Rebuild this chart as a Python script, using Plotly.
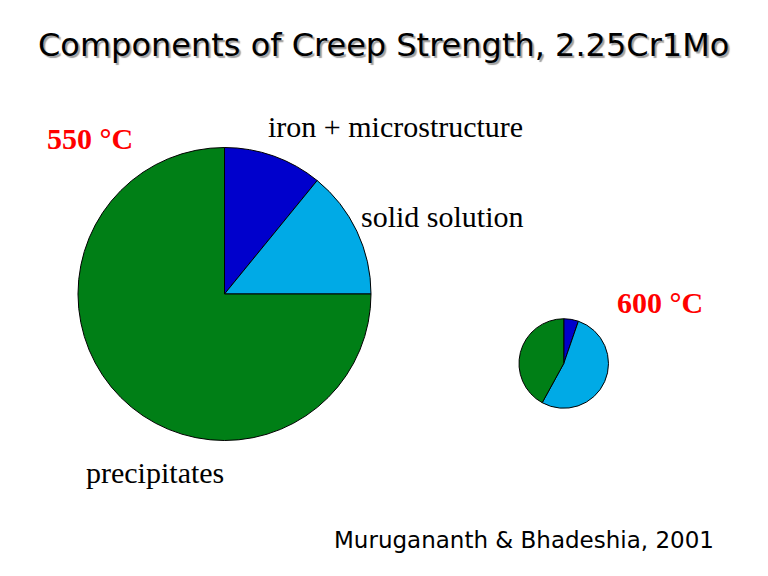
import plotly.graph_objects as go

components = ["iron + microstructure", "solid solution", "precipitates"]
share_550 = [10.9, 14.1, 75.0]
share_600 = [5.3, 52.7, 42.0]
colors = ["#0000CC", "#00AAE6", "#007F16"]

W, H = 768, 576
OFF = 8  # page body margin

def dom(x0, x1, y0, y1):
    x0 -= OFF; x1 -= OFF; y0 -= OFF; y1 -= OFF
    return dict(x=[x0 / W, x1 / W], y=[1 - y1 / H, 1 - y0 / H])

fig = go.Figure()
fig.add_trace(go.Pie(labels=components, values=share_550, sort=False, direction="clockwise",
                     rotation=0, marker=dict(colors=colors, line=dict(color="black", width=1)),
                     textinfo="none", hoverinfo="label+percent", showlegend=False,
                     domain=dom(78, 371, 147.5, 440.5)))
fig.add_trace(go.Pie(labels=components, values=share_600, sort=False, direction="clockwise",
                     rotation=0, marker=dict(colors=colors, line=dict(color="black", width=1)),
                     textinfo="none", hoverinfo="label+percent", showlegend=False,
                     domain=dom(519, 608.5, 318.5, 408.5)))

ann = []

def txt(x, y, s, size, color="black", bold=False, anchor="left", family="Liberation Serif", shadow=None):
    if bold:
        s = "<b>" + s + "</b>"
    f = dict(family=family, size=size, color=color)
    if shadow:
        f["shadow"] = shadow
    ann.append(dict(x=(x - OFF) / W, y=1 - (y - OFF) / H, text=s, showarrow=False, xref="paper",
                    yref="paper", xanchor=anchor, yanchor="middle", font=f))

txt(383, 45, "Components of Creep Strength, 2.25Cr1Mo", 32, anchor="center",
    family="DejaVu Sans", shadow="2px 2px 1px #A0A0A0")
txt(266, 126, components[0], 30)
txt(359, 216, components[1], 30)
txt(84, 472, components[2], 30)
txt(45, 138, "550 °C", 30, color="red", bold=True)
txt(615, 302, "600 °C", 30, color="red", bold=True)
txt(716, 540, "Murugananth &amp; Bhadeshia, 2001", 23, anchor="right", family="DejaVu Sans")

fig.update_layout(width=W, height=H, margin=dict(l=0, r=0, t=0, b=0),
                  paper_bgcolor="white", plot_bgcolor="white", annotations=ann)
fig.write_html("out.html")
